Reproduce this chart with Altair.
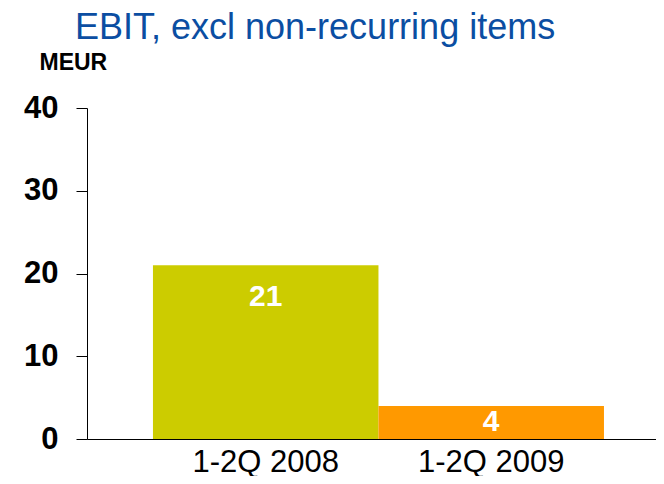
import altair as alt
import pandas as pd

periods = ["1-2Q 2008", "1-2Q 2009"]
ebit = [21, 4]
bar_colors = ["#CCCC00", "#FF9900"]

df = pd.DataFrame({"period": periods, "ebit": ebit})

FONT = "Liberation Sans"

x_enc = alt.X(
    "period:N",
    sort=periods,
    scale=alt.Scale(paddingInner=0, paddingOuter=0.2616, align=0.559),
    axis=alt.Axis(
        title=None,
        labelAngle=0,
        ticks=False,
        labelFont=FONT,
        labelFontSize=31,
        labelColor="black",
        labelBaseline="alphabetic",
        labelPadding=32,
        domainColor="black",
        domainWidth=1,
    ),
)

base = alt.Chart(df)

bars = base.mark_bar().encode(
    x=x_enc,
    y=alt.Y(
        "ebit:Q",
        scale=alt.Scale(domain=[0, 40]),
        axis=alt.Axis(
            values=[0, 10, 20, 30, 40],
            grid=False,
            tickSize=11,
            tickColor="black",
            domainColor="black",
            labelFont=FONT,
            labelFontSize=31,
            labelFontWeight="bold",
            labelColor="black",
            labelPadding=18,
            title="MEUR",
            titleAngle=0,
            titleX=-48,
            titleY=-39,
            titleAlign="left",
            titleBaseline="alphabetic",
            titleFont=FONT,
            titleFontSize=23,
            titleFontWeight="bold",
            titleColor="black",
        ),
    ),
    color=alt.Color("period:N", scale=alt.Scale(domain=periods, range=bar_colors), legend=None),
)

labels = base.transform_calculate(
    lab="max(datum.ebit - 3.9, datum.ebit / 2)"
).mark_text(
    color="white", font=FONT, fontSize=30, fontWeight="bold", baseline="middle"
).encode(
    x=alt.X("period:N", sort=periods),
    y=alt.Y("lab:Q"),
    text=alt.Text("ebit:Q"),
)

chart = (
    alt.layer(bars, labels)
    .properties(
        width=569,
        height=331,
        autosize=alt.AutoSizeParams(type="none"),
        padding={"left": 79, "top": 100, "right": 0, "bottom": 37},
        title=alt.TitleParams(
            "EBIT, excl non-recurring items",
            anchor="start",
            frame="group",
            font=FONT,
            fontSize=36,
            fontWeight="normal",
            color="#0B4EA2",
            dx=-12,
            offset=4,
        ),
    )
    .configure_view(stroke=None)
)

chart.save("out.html", embed_options={"renderer": "svg", "actions": False})
